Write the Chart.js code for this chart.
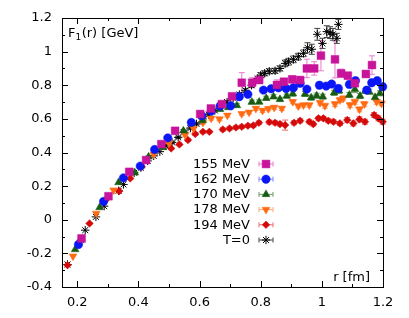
<!DOCTYPE html>
<html>
<head>
<meta charset="utf-8">
<script src="https://cdn.jsdelivr.net/npm/chart.js@4"></script>
<style>
  html, body { margin: 0; padding: 0; background: #fff; }
  canvas { display: block; }
</style>
</head>
<body>
<canvas id="chart" width="409" height="318"></canvas>
<script>
// ticks
const xTicks = [0.2, 0.4, 0.6, 0.8, 1, 1.2];
const yTicks = [-0.4, -0.2, 0, 0.2, 0.4, 0.6, 0.8, 1, 1.2];
const xMinor = [0.3, 0.5, 0.7, 0.9, 1.1];
const yMinor = [-0.3, -0.1, 0.1, 0.3, 0.5, 0.7, 0.9, 1.1];

const labels = ["155 MeV", "162 MeV", "170 MeV", "178 MeV", "194 MeV", "T=0"];

// 155 MeV
const r155 = [0.214, 0.302, 0.370, 0.425, 0.475, 0.520, 0.602, 0.637, 0.673, 0.706, 0.738, 0.772, 0.795, 0.853, 0.876, 0.903, 0.929, 0.951, 0.975, 0.997, 1.043, 1.063, 1.085, 1.108, 1.144, 1.164];
const f155 = [-0.111, 0.140, 0.285, 0.355, 0.450, 0.529, 0.629, 0.662, 0.688, 0.734, 0.815, 0.815, 0.831, 0.802, 0.821, 0.835, 0.831, 0.900, 0.900, 0.976, 0.954, 0.871, 0.857, 0.812, 0.867, 0.920];
const e155 = [0.005, 0.005, 0.005, 0.006, 0.008, 0.008, 0.01, 0.01, 0.012, 0.015, 0.06, 0.03, 0.02, 0.03, 0.02, 0.02, 0.02, 0.055, 0.04, 0.09, 0.11, 0.025, 0.02, 0.02, 0.02, 0.055];

// 162 MeV
const r162 = [0.204, 0.286, 0.351, 0.406, 0.453, 0.496, 0.573, 0.607, 0.638, 0.667, 0.702, 0.730, 0.758, 0.809, 0.834, 0.858, 0.883, 0.907, 0.929, 0.951, 0.992, 1.014, 1.032, 1.054, 1.090, 1.110, 1.147, 1.163, 1.181, 1.199];
const f162 = [-0.147, 0.109, 0.249, 0.319, 0.418, 0.487, 0.579, 0.619, 0.646, 0.676, 0.678, 0.732, 0.746, 0.771, 0.779, 0.785, 0.781, 0.785, 0.811, 0.777, 0.800, 0.795, 0.807, 0.781, 0.805, 0.827, 0.771, 0.815, 0.827, 0.791];
const e162 = [0.005, 0.005, 0.005, 0.006, 0.006, 0.008, 0.008, 0.01, 0.01, 0.01, 0.01, 0.012, 0.012, 0.015, 0.015, 0.015, 0.015, 0.015, 0.015, 0.015, 0.02, 0.015, 0.015, 0.02, 0.02, 0.02, 0.02, 0.02, 0.02, 0.02];

// 170 MeV
const r170 = [0.193, 0.273, 0.335, 0.388, 0.433, 0.480, 0.547, 0.610, 0.667, 0.694, 0.722, 0.771, 0.795, 0.818, 0.842, 0.863, 0.885, 0.905, 0.945, 0.965, 0.983, 1.003, 1.040, 1.056, 1.090, 1.108, 1.125, 1.143, 1.155, 1.174, 1.190];
const f170 = [-0.177, 0.073, 0.222, 0.280, 0.374, 0.430, 0.529, 0.590, 0.657, 0.668, 0.680, 0.700, 0.701, 0.723, 0.732, 0.716, 0.736, 0.750, 0.748, 0.726, 0.738, 0.732, 0.755, 0.767, 0.742, 0.776, 0.736, 0.767, 0.761, 0.728, 0.752];
const e170 = [0.005, 0.005, 0.005, 0.006, 0.006, 0.008, 0.008, 0.01, 0.01, 0.01, 0.01, 0.012, 0.012, 0.012, 0.012, 0.012, 0.012, 0.015, 0.015, 0.015, 0.015, 0.015, 0.015, 0.015, 0.015, 0.02, 0.015, 0.015, 0.015, 0.015, 0.015];

// 178 MeV
const r178 = [0.186, 0.262, 0.319, 0.450, 0.500, 0.553, 0.580, 0.611, 0.638, 0.665, 0.691, 0.738, 0.762, 0.784, 0.806, 0.825, 0.844, 0.869, 0.905, 0.923, 0.940, 0.959, 0.994, 1.010, 1.043, 1.059, 1.070, 1.092, 1.108, 1.123, 1.139, 1.179, 1.195];
const f178 = [-0.217, 0.037, 0.176, 0.390, 0.455, 0.504, 0.543, 0.579, 0.603, 0.599, 0.621, 0.630, 0.639, 0.662, 0.650, 0.660, 0.668, 0.662, 0.702, 0.676, 0.682, 0.682, 0.696, 0.678, 0.688, 0.712, 0.722, 0.682, 0.702, 0.657, 0.688, 0.702, 0.692];
const e178 = [0.005, 0.005, 0.005, 0.006, 0.008, 0.008, 0.008, 0.01, 0.01, 0.01, 0.01, 0.01, 0.01, 0.012, 0.012, 0.012, 0.012, 0.012, 0.012, 0.012, 0.012, 0.012, 0.015, 0.015, 0.015, 0.015, 0.015, 0.015, 0.015, 0.015, 0.015, 0.015, 0.015];

// 194 MeV
const r194 = [0.168, 0.240, 0.293, 0.337, 0.373, 0.411, 0.507, 0.534, 0.562, 0.586, 0.611, 0.632, 0.676, 0.698, 0.719, 0.738, 0.758, 0.776, 0.794, 0.828, 0.847, 0.863, 0.880, 0.909, 0.929, 0.959, 0.972, 0.989, 1.005, 1.021, 1.038, 1.059, 1.083, 1.103, 1.123, 1.141, 1.171, 1.185, 1.199];
const f194 = [-0.270, -0.022, 0.117, 0.170, 0.246, 0.315, 0.424, 0.448, 0.474, 0.510, 0.523, 0.523, 0.537, 0.543, 0.549, 0.553, 0.559, 0.561, 0.577, 0.581, 0.577, 0.569, 0.563, 0.577, 0.589, 0.583, 0.569, 0.603, 0.603, 0.589, 0.583, 0.573, 0.593, 0.573, 0.597, 0.583, 0.623, 0.603, 0.583];
const e194 = [0.005, 0.005, 0.005, 0.005, 0.006, 0.006, 0.006, 0.008, 0.008, 0.008, 0.008, 0.008, 0.01, 0.01, 0.01, 0.01, 0.01, 0.01, 0.01, 0.012, 0.012, 0.012, 0.03, 0.012, 0.012, 0.012, 0.012, 0.012, 0.012, 0.012, 0.012, 0.012, 0.015, 0.015, 0.015, 0.015, 0.015, 0.015, 0.015];

// T=0
const r0 = [0.168, 0.212, 0.226, 0.261, 0.288, 0.335, 0.351, 0.386, 0.408, 0.430, 0.450, 0.470, 0.490, 0.510, 0.530, 0.550, 0.570, 0.590, 0.610, 0.630, 0.650, 0.670, 0.690, 0.710, 0.730, 0.750, 0.770, 0.790, 0.800, 0.813, 0.828, 0.847, 0.863, 0.880, 0.891, 0.907, 0.923, 0.940, 0.953, 0.967, 0.985, 1.002, 1.016, 1.027, 1.036, 1.049, 1.054];
const f0 = [-0.266, -0.121, -0.062, 0.017, 0.081, 0.172, 0.210, 0.279, 0.310, 0.350, 0.380, 0.405, 0.440, 0.460, 0.490, 0.520, 0.545, 0.570, 0.600, 0.625, 0.650, 0.680, 0.700, 0.725, 0.745, 0.770, 0.800, 0.840, 0.860, 0.871, 0.883, 0.886, 0.900, 0.930, 0.940, 0.954, 0.970, 0.990, 1.023, 1.014, 1.103, 1.049, 1.119, 1.113, 1.103, 1.079, 1.162];
const e0 = [0.005, 0.005, 0.005, 0.005, 0.005, 0.005, 0.005, 0.005, 0.005, 0.005, 0.005, 0.005, 0.006, 0.006, 0.006, 0.006, 0.006, 0.006, 0.008, 0.008, 0.008, 0.008, 0.01, 0.01, 0.01, 0.01, 0.012, 0.012, 0.015, 0.015, 0.015, 0.015, 0.015, 0.02, 0.02, 0.02, 0.02, 0.02, 0.03, 0.03, 0.035, 0.03, 0.035, 0.035, 0.035, 0.03, 0.03];

const FONT = "DejaVu Sans";

function pts(xs, ys, es) {
  return xs.map((x, i) => ({ x: x, y: ys[i], e: es[i] }));
}

const series = [
  { data: pts(r155, f155, e155), color: "#c8139b", err: "#e77ccc", style: "rect", radius: 5.5, rot: 0 },
  { data: pts(r162, f162, e162), color: "#0a16f5", err: "#7a86ff", style: "circle", radius: 4.2, rot: 0 },
  { data: pts(r170, f170, e170), color: "#175c12", err: "#6a9e66", style: "triangle", radius: 4.5, rot: 0 },
  { data: pts(r178, f178, e178), color: "#ff6a12", err: "#ffa576", style: "triangle", radius: 4.5, rot: 180 },
  { data: pts(r194, f194, e194), color: "#d40a0a", err: "#ef6a6a", style: "rectRot", radius: 3.8, rot: 0 },
  { data: pts(r0, f0, e0), color: "#000000", err: "#444444", style: "star", radius: 4.2, rot: 0 }
];

const datasets = series.map((s, i) => ({
  label: labels[i],
  data: s.data,
  errColor: s.err,
  pointStyle: s.style,
  pointRadius: s.radius,
  pointRotation: s.rot,
  pointBackgroundColor: s.color,
  pointBorderColor: s.color,
  pointBorderWidth: s.style === "star" ? 1 : 0.5,
  showLine: false,
  clip: 8
}));

const errorBars = {
  id: "errorBars",
  beforeDatasetsDraw(chart) {
    const ctx = chart.ctx;
    const xs = chart.scales.x, ys = chart.scales.y;
    ctx.save();
    ctx.lineWidth = 1;
    chart.data.datasets.forEach((ds) => {
      ctx.strokeStyle = ds.errColor;
      ds.data.forEach((p) => {
        const px = xs.getPixelForValue(p.x);
        const top = ys.getPixelForValue(p.y + p.e);
        const bot = ys.getPixelForValue(p.y - p.e);
        if (bot - top < 2) return;
        ctx.beginPath();
        ctx.moveTo(px, top); ctx.lineTo(px, bot);
        ctx.moveTo(px - 3, top); ctx.lineTo(px + 3, top);
        ctx.moveTo(px - 3, bot); ctx.lineTo(px + 3, bot);
        ctx.stroke();
      });
    });
    ctx.restore();
  }
};

const frame = {
  id: "frame",
  afterDraw(chart) {
    const ctx = chart.ctx;
    const a = chart.chartArea;
    const xs = chart.scales.x, ys = chart.scales.y;
    ctx.save();
    ctx.strokeStyle = "#000";
    ctx.lineWidth = 1;
    const tickX = (vals, len) => vals.forEach((v) => {
      const p = Math.round(xs.getPixelForValue(v)) + 0.5;
      ctx.beginPath();
      ctx.moveTo(p, a.bottom); ctx.lineTo(p, a.bottom - len);
      ctx.moveTo(p, a.top); ctx.lineTo(p, a.top + len);
      ctx.stroke();
    });
    const tickY = (vals, len) => vals.forEach((v) => {
      const p = Math.round(ys.getPixelForValue(v)) + 0.5;
      ctx.beginPath();
      ctx.moveTo(a.left, p); ctx.lineTo(a.left + len, p);
      ctx.moveTo(a.right, p); ctx.lineTo(a.right - len, p);
      ctx.stroke();
    });
    tickX(xTicks, 6); tickX(xMinor, 3);
    tickY(yTicks, 6); tickY(yMinor, 3);
    ctx.strokeRect(Math.round(a.left) + 0.5, Math.round(a.top) + 0.5,
      Math.round(a.right - a.left), Math.round(a.bottom - a.top));

    // axis titles
    ctx.fillStyle = "#000";
    ctx.textBaseline = "alphabetic";
    ctx.font = "13px '" + FONT + "'";
    ctx.textAlign = "left";
    let tx = a.left + 6, ty = a.top + 19;
    ctx.fillText("F", tx, ty);
    tx += ctx.measureText("F").width;
    ctx.font = "9px '" + FONT + "'";
    ctx.fillText("1", tx, ty + 3);
    tx += ctx.measureText("1").width + 0.5;
    ctx.font = "13px '" + FONT + "'";
    ctx.fillText("(r) [GeV]", tx, ty);
    ctx.textAlign = "right";
    ctx.fillText("r [fm]", a.right - 13, a.bottom - 6);

    // legend
    chart.data.datasets.forEach((ds, i) => {
      const y = 164 + i * 15.2;
      ctx.fillStyle = "#000";
      ctx.textAlign = "right";
      ctx.textBaseline = "middle";
      ctx.font = "13px '" + FONT + "'";
      ctx.fillText(ds.label, 250, y + 0.5);
      const mx = 266;
      ctx.strokeStyle = ds.errColor;
      ctx.beginPath();
      ctx.moveTo(mx - 7, y); ctx.lineTo(mx + 7, y);
      ctx.moveTo(mx - 7, y - 2.5); ctx.lineTo(mx - 7, y + 2.5);
      ctx.moveTo(mx + 7, y - 2.5); ctx.lineTo(mx + 7, y + 2.5);
      ctx.stroke();
      ctx.fillStyle = ds.pointBackgroundColor;
      ctx.strokeStyle = ds.pointBorderColor;
      ctx.lineWidth = ds.pointBorderWidth;
      Chart.helpers.drawPoint(ctx, {
        pointStyle: ds.pointStyle,
        radius: ds.pointRadius,
        rotation: ds.pointRotation,
        borderWidth: ds.pointBorderWidth
      }, mx, y);
      ctx.lineWidth = 1;
    });
    ctx.restore();
  }
};

new Chart(document.getElementById("chart"), {
  type: "scatter",
  data: { datasets: datasets },
  options: {
    responsive: false,
    animation: false,
    devicePixelRatio: 1,
    layout: { padding: { top: 18, right: 26, left: 0, bottom: 0 } },
    plugins: { legend: { display: false }, tooltip: { enabled: false } },
    scales: {
      x: {
        type: "linear",
        min: 0.15,
        max: 1.2,
        afterBuildTicks: (s) => { s.ticks = xTicks.map((v) => ({ value: v })); },
        afterFit: (s) => { s.height = 31; },
        grid: { display: false, drawTicks: false },
        border: { display: false },
        ticks: {
          color: "#000",
          padding: 8,
          maxRotation: 0,
          font: { family: FONT, size: 13 },
          callback: (v) => String(Math.round(v * 10) / 10)
        }
      },
      y: {
        type: "linear",
        min: -0.4,
        max: 1.2,
        afterBuildTicks: (s) => { s.ticks = yTicks.map((v) => ({ value: v })); },
        afterFit: (s) => { s.width = 62; },
        grid: { display: false, drawTicks: false },
        border: { display: false },
        ticks: {
          color: "#000",
          padding: 10,
          font: { family: FONT, size: 13 },
          callback: (v) => String(Math.round(v * 10) / 10)
        }
      }
    }
  },
  plugins: [errorBars, frame]
});
</script>
</body>
</html>
